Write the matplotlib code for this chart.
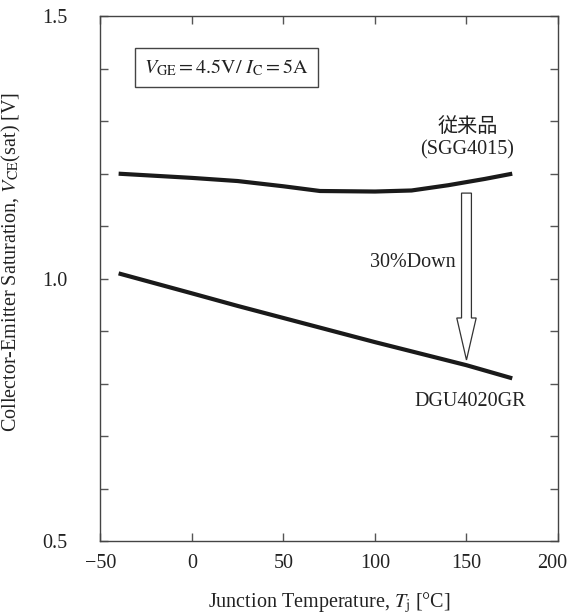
import numpy as np
import matplotlib
matplotlib.use("Agg")
import matplotlib.pyplot as plt
import matplotlib.transforms as mtransforms
from matplotlib.patches import FancyArrow

plt.rcParams['font.family'] = ['Liberation Serif', 'Noto Sans CJK JP', 'DejaVu Serif']
plt.rcParams['mathtext.fontset'] = 'stix'

# data
temp = [-40, 0, 25, 50, 70, 100, 120, 140, 160, 175]
vce_old = [1.200, 1.192, 1.186, 1.176, 1.167, 1.166, 1.168, 1.178, 1.190, 1.200]

temp_new = [-40, 0, 25, 50, 75, 100, 125, 150, 175]
vce_new = [1.010, 0.972, 0.948, 0.925, 0.902, 0.879, 0.857, 0.835, 0.810]

old_label = "従来品\n(SGG4015)"
new_label = "DGU4020GR"
arrow_t = 150

txt = "#222222"
fs = 14.5
fig = plt.figure(figsize=(5.69, 6.14), dpi=100)
ax = fig.add_axes([0.1763, 0.1189, 0.9807 - 0.1763, 0.9735 - 0.1189])

ax.plot(temp, vce_old, color="#1a1a1a", lw=3.0, solid_capstyle="butt")
ax.plot(temp_new, vce_new, color="#1a1a1a", lw=3.0, solid_capstyle="butt")

# hollow arrow between the curves
top = np.interp(arrow_t, temp, vce_old) - 0.021
tip = np.interp(arrow_t, temp_new, vce_new) + 0.010
ax.add_patch(FancyArrow(arrow_t, top, 0, tip - top, width=5.4, head_width=10.6,
                        head_length=0.08, length_includes_head=True,
                        fc="white", ec="#333333", lw=0.9))
ax.text(arrow_t - 6, 1.03, "30%Down", ha="right", va="center", fontsize=fs, color=txt)
ax.text(150.5, 1.267, old_label, ha="center", va="center", fontsize=fs,
        color=txt, linespacing=1.2)
ax.text(152, 0.825 - 0.06, new_label, ha="center", va="center", fontsize=fs, color=txt)

ax.text(0.275, 0.902, r"$V_{\mathrm{GE}} = 4.5\mathrm{V}/\ I_{\mathrm{C}} = 5\mathrm{A}$",
        transform=ax.transAxes, ha="center", va="center", fontsize=fs, color=txt,
        bbox=dict(boxstyle="square,pad=0.45", fc="white", ec="#444444", lw=1.0))

ax.set_xlim(-50, 200)
ax.set_ylim(0.5, 1.5)
ax.set_xticks([-50, 0, 50, 100, 150, 200])
ax.set_xticklabels(["\u221250", "0", "50", "100", "150", "200"])
ax.set_yticks(np.arange(0.5, 1.51, 0.1))
ax.set_yticklabels(["0.5", "", "", "", "", "1.0", "", "", "", "", "1.5"])
ax.tick_params(direction="in", length=6, width=1.0, color="#555555",
               top=True, right=True, labelsize=fs, labelcolor=txt)
ax.tick_params(axis="y", pad=24)
ax.tick_params(axis="x", pad=9.5)
for s in ax.spines.values():
    s.set_color("#444444")
    s.set_linewidth(1.0)

# last x label sits a little left of its tick, as in the reference
lab = ax.get_xticklabels()[-1]
lab.set_transform(lab.get_transform() +
                  mtransforms.ScaledTranslation(-6 / 100, 0, fig.dpi_scale_trans))

ax.set_xlabel(r"Junction Temperature, $T_{\mathrm{j}}$ [°C]", fontsize=fs,
              color=txt, labelpad=12)
ax.set_ylabel(r"Collector-Emitter Saturation, $V_{\mathrm{CE}}$(sat) [V]",
              fontsize=fs, color=txt)
ax.yaxis.set_label_coords(-0.169, 0.532)

fig.savefig("out.png", dpi=100)
